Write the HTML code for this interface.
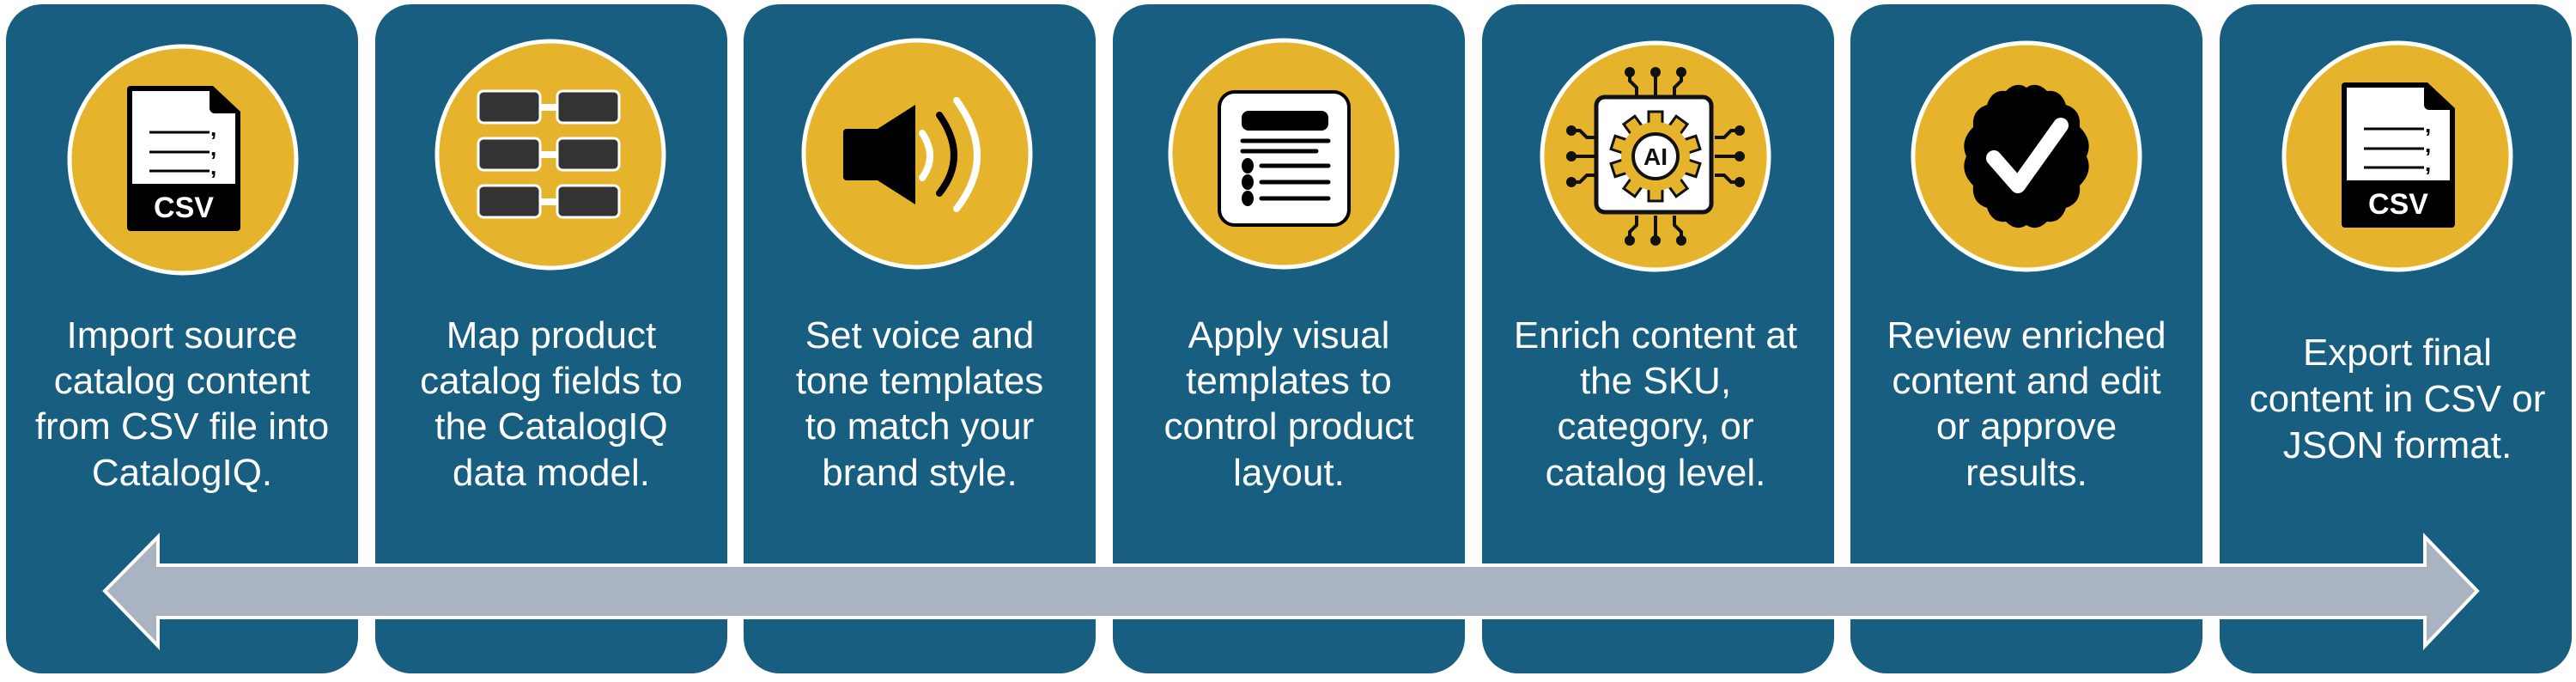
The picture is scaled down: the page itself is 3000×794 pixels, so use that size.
<!DOCTYPE html>
<html><head><meta charset="utf-8"><style>
html,body{margin:0;padding:0;background:#fff;width:3000px;height:794px;overflow:hidden}
svg{display:block}
text{font-family:"Liberation Sans",sans-serif}
</style></head><body>
<svg width="3000" height="794" viewBox="0 0 3000 794" xmlns="http://www.w3.org/2000/svg">
<defs>
<g id="csv">
  <path d="M-65,-82 a4,4 0 0 1 4,-4 L35,-86 L67,-56 L67,79 a4,4 0 0 1 -4,4 L-61,83 a4,4 0 0 1 -4,-4 Z" fill="#000"/>
  <path d="M-59,-80 L31,-80 L31,-60 a6,6 0 0 0 6,6 L61,-54 L61,28 L-59,28 Z" fill="#fff"/>
  <g stroke="#000" stroke-width="3"><line x1="-39" y1="-32" x2="31" y2="-32"/><line x1="-39" y1="-9" x2="31" y2="-9"/><line x1="-39" y1="13" x2="31" y2="13"/></g>
  <g font-size="26" font-weight="bold" fill="#000"><text x="32" y="-28">,</text><text x="32" y="-5">,</text><text x="32" y="17">,</text></g>
  <text x="1" y="67" text-anchor="middle" font-size="34" font-weight="bold" fill="#fff">CSV</text>
</g>
<circle id="circ" r="132" fill="#e6b42c" stroke="#fff" stroke-width="5"/>
</defs>
<g fill="#175e80">
<rect x="7" y="5" width="410" height="779" rx="42"/>
<rect x="437" y="5" width="410" height="779" rx="42"/>
<rect x="866" y="5" width="410" height="779" rx="42"/>
<rect x="1296" y="5" width="410" height="779" rx="42"/>
<rect x="1726" y="5" width="410" height="779" rx="42"/>
<rect x="2155" y="5" width="410" height="779" rx="42"/>
<rect x="2585" y="5" width="410" height="779" rx="42"/>
</g>

<g transform="translate(213,186)"><use href="#circ"/><use href="#csv"/></g>

<g transform="translate(641,180)"><use href="#circ"/>
<g fill="#fff"><rect x="-12" y="-59" width="24" height="8"/><rect x="-12" y="-4" width="24" height="8"/><rect x="-12" y="51" width="24" height="8"/></g>
<g fill="#333" stroke="#fff" stroke-width="3">
<rect x="-84" y="-74" width="72" height="37" rx="6"/><rect x="8" y="-74" width="72" height="37" rx="6"/>
<rect x="-84" y="-19" width="72" height="37" rx="6"/><rect x="8" y="-19" width="72" height="37" rx="6"/>
<rect x="-84" y="36" width="72" height="37" rx="6"/><rect x="8" y="36" width="72" height="37" rx="6"/>
</g></g>

<g transform="translate(1068,179)"><use href="#circ"/>
<path d="M-86,-25 a4,4 0 0 1 4,-4 L-46,-29 L-2,-57 L-2,59 L-46,31 L-82,31 a4,4 0 0 1 -4,-4 Z" fill="#000"/>
<g fill="none" stroke-linecap="round" stroke-width="8">
<path d="M6,-24 Q24,3 6,28" stroke="#fff"/>
<path d="M26,-45 Q60,3 26,46" stroke="#000"/>
<path d="M46,-62 Q94,3 46,64" stroke="#fff"/>
</g></g>

<g transform="translate(1495,179)"><use href="#circ"/>
<rect x="-75" y="-72" width="151" height="155" rx="18" fill="#fff" stroke="#000" stroke-width="4"/>
<rect x="-49" y="-50" width="101" height="23" rx="8" fill="#000"/>
<g stroke="#000" stroke-width="5" stroke-linecap="round">
<line x1="-48" y1="-15" x2="52" y2="-15"/><line x1="-48" y1="-3" x2="38" y2="-3"/>
<line x1="-26" y1="14" x2="52" y2="14"/><line x1="-26" y1="33" x2="52" y2="33"/><line x1="-26" y1="52" x2="52" y2="52"/>
</g>
<g fill="#000"><ellipse cx="-42" cy="14" rx="7" ry="9"/><ellipse cx="-42" cy="33" rx="7" ry="9"/><ellipse cx="-42" cy="52" rx="7" ry="9"/></g>
</g>

<g transform="translate(1928,182)"><use href="#circ"/>
<g stroke="#111" stroke-width="4" fill="none">
<path d="M-22,-69 L-22,-80 L-30,-88 L-30,-96"/><path d="M0,-69 L0,-96"/><path d="M22,-69 L22,-80 L30,-88 L30,-96"/>
<path d="M-22,69 L-22,80 L-30,88 L-30,96"/><path d="M0,69 L0,96"/><path d="M22,69 L22,80 L30,88 L30,96"/>
<path d="M-69,-22 L-80,-22 L-88,-30 L-96,-30"/><path d="M-69,0 L-96,0"/><path d="M-69,22 L-80,22 L-88,30 L-96,30"/>
<path d="M69,-22 L80,-22 L88,-30 L96,-30"/><path d="M69,0 L96,0"/><path d="M69,22 L80,22 L88,30 L96,30"/>
</g>
<g fill="#111">
<circle cx="-30" cy="-98" r="6"/><circle cx="0" cy="-98" r="6"/><circle cx="30" cy="-98" r="6"/>
<circle cx="-30" cy="98" r="6"/><circle cx="0" cy="98" r="6"/><circle cx="30" cy="98" r="6"/>
<circle cx="-98" cy="-30" r="6"/><circle cx="-98" cy="0" r="6"/><circle cx="-98" cy="30" r="6"/>
<circle cx="98" cy="-30" r="6"/><circle cx="98" cy="0" r="6"/><circle cx="98" cy="30" r="6"/>
</g>
<rect x="-69" y="-69" width="134" height="134" rx="10" fill="#fff" stroke="#111" stroke-width="5"/>
<g fill="#e6b42c" stroke="#111" stroke-width="3">
<rect x="-8" y="-52" width="16" height="16"/><rect x="-8" y="-52" width="16" height="16" transform="rotate(36)"/>
<rect x="-8" y="-52" width="16" height="16" transform="rotate(72)"/><rect x="-8" y="-52" width="16" height="16" transform="rotate(108)"/>
<rect x="-8" y="-52" width="16" height="16" transform="rotate(144)"/><rect x="-8" y="-52" width="16" height="16" transform="rotate(180)"/>
<rect x="-8" y="-52" width="16" height="16" transform="rotate(216)"/><rect x="-8" y="-52" width="16" height="16" transform="rotate(252)"/>
<rect x="-8" y="-52" width="16" height="16" transform="rotate(288)"/><rect x="-8" y="-52" width="16" height="16" transform="rotate(324)"/>
</g>
<circle r="40" fill="#e6b42c"/>
<circle r="26" fill="#fff" stroke="#111" stroke-width="4"/>
<text x="0" y="10" text-anchor="middle" font-size="28" font-weight="bold" fill="#111">AI</text>
</g>

<g transform="translate(2360,182)"><use href="#circ"/>
<path d="M0,-80 Q12,-88 24,-76 Q40,-78 46,-60 Q64,-54 62,-34 Q78,-18 70,0 Q78,18 62,34 Q64,54 46,60 Q40,78 24,76 Q12,88 0,80 Q-12,88 -24,76 Q-40,78 -46,60 Q-64,54 -62,34 Q-78,18 -70,0 Q-78,-18 -62,-34 Q-64,-54 -46,-60 Q-40,-78 -24,-76 Q-12,-88 0,-80 Z" fill="#000"/>
<path d="M-38,2 L-10,34 L40,-36" fill="none" stroke="#fff" stroke-width="18" stroke-linecap="round" stroke-linejoin="round"/>
</g>

<g transform="translate(2792,182)"><use href="#circ"/><use href="#csv"/></g>

<g fill="#fff" font-size="44" text-anchor="middle">
<text><tspan x="212" y="405">Import source</tspan><tspan x="212" y="458">catalog content</tspan><tspan x="212" y="511">from CSV file into</tspan><tspan x="212" y="565">CatalogIQ.</tspan></text>
<text><tspan x="642" y="405">Map product</tspan><tspan x="642" y="458">catalog fields to</tspan><tspan x="642" y="511">the CatalogIQ</tspan><tspan x="642" y="565">data model.</tspan></text>
<text><tspan x="1071" y="405">Set voice and</tspan><tspan x="1071" y="458">tone templates</tspan><tspan x="1071" y="511">to match your</tspan><tspan x="1071" y="565">brand style.</tspan></text>
<text><tspan x="1501" y="405">Apply visual</tspan><tspan x="1501" y="458">templates to</tspan><tspan x="1501" y="511">control product</tspan><tspan x="1501" y="565">layout.</tspan></text>
<text><tspan x="1928" y="405">Enrich content at</tspan><tspan x="1928" y="458">the SKU,</tspan><tspan x="1928" y="511">category, or</tspan><tspan x="1928" y="565">catalog level.</tspan></text>
<text><tspan x="2360" y="405">Review enriched</tspan><tspan x="2360" y="458">content and edit</tspan><tspan x="2360" y="511">or approve</tspan><tspan x="2360" y="565">results.</tspan></text>
<text><tspan x="2792" y="425">Export final</tspan><tspan x="2792" y="479">content in CSV or</tspan><tspan x="2792" y="533">JSON format.</tspan></text>
</g>

<polygon points="122,688 184,625 184,658 2824,658 2824,625 2885,688 2824,752 2824,719 184,719 184,752" fill="#a9b4c0" stroke="#fff" stroke-width="4"/>
</svg>
</body></html>
